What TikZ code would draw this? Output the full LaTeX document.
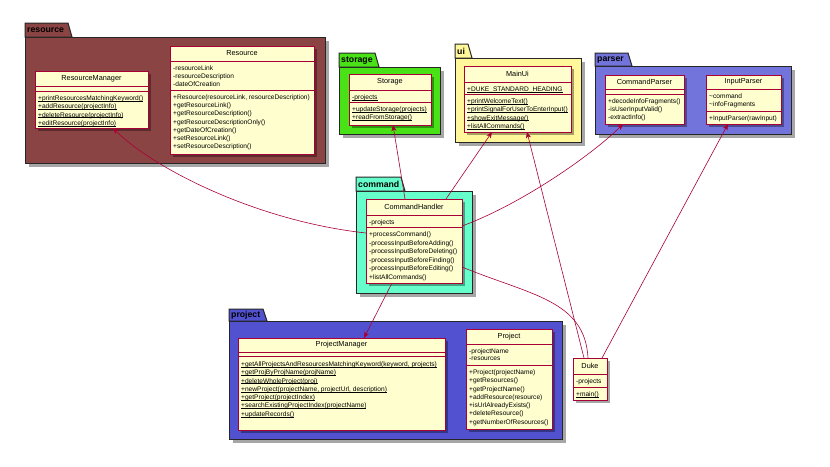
\documentclass[tikz,border=0pt]{standalone}
\usepackage{fontspec}
\setmainfont{Liberation Sans}
\usetikzlibrary{arrows.meta,calc}
\definecolor{clsfill}{HTML}{FEFECE}
\definecolor{clsdraw}{HTML}{A80036}
\definecolor{cresource}{RGB}{139,68,68}
\definecolor{cstorage}{RGB}{72,226,22}
\definecolor{cui}{RGB}{255,247,153}
\definecolor{cparser}{RGB}{115,115,220}
\definecolor{ccommand}{RGB}{102,255,204}
\definecolor{cproject}{RGB}{82,82,208}
\newsavebox\ulxbox
\newcommand\ulx[1]{\sbox\ulxbox{#1}\rlap{\rule[-1pt]{\wd\ulxbox}{0.6pt}}\usebox\ulxbox}
\tikzset{
  shad/.style={fill=black, opacity=0.35},
  clsbox/.style={draw=clsdraw, fill=clsfill, line width=0.9pt, inner sep=0pt, outer sep=0pt, rectangle},
  clsline/.style={draw=clsdraw, line width=0.9pt},
  clstitle/.style={inner sep=0pt, font=\fontsize{7.3}{8}\selectfont},
  mem/.style={anchor=west, inner sep=0pt, text height=4.8pt, text depth=0pt, font=\fontsize{6.6}{8}\selectfont},
  pkgbody/.style={draw=black!85, line width=1pt, inner sep=0pt, outer sep=0pt, rectangle},
  pkgline/.style={draw=black!85, line width=1pt},
  pkglabel/.style={inner sep=0pt, font=\fontsize{8.7}{9}\selectfont\bfseries},
  conn/.style={draw=clsdraw, line width=0.6pt},
  arr/.style={conn, -{Stealth[length=6pt,width=5pt,inset=1.5pt]}}
}
% #1 id, #2 x1, #3 y1, #4 x2, #5 y2, #6 header bottom, #7 attrs bottom, #8 title
\newcommand\umlclass[8]{%
  \fill[shad] (#2+3,#3+3) rectangle (#4+3,#5+3);
  \node[clsbox, anchor=north west, minimum width={(#4-#2)*1pt}, minimum height={(#5-#3)*1pt}] (#1) at (#2,#3) {};
  \draw[clsline] (#2,#6) -- (#4,#6) (#2,#7) -- (#4,#7);
  \node[clstitle] (#1-title) at ({(#2+#4)/2},{(#3+#6)/2}) {#8};
}
% #1 id, #2 x, #3 ytop, #4 pitch, #5 list
\newcommand\members[5]{%
  \foreach \mtext [count=\mi from 0] in {#5} \node[mem] (#1-\mi) at (#2+3,#3+7+#4*\mi) {\mtext};
}
% #1 id, #2 x1, #3 ytab, #4 tab right, #5 ybody, #6 x2, #7 y2, #8 colour, #9 label
\newcommand\umlpkg[9]{%
  \fill[shad] (#2+4,#5+4) rectangle (#6+4,#7+4);
  \node[pkgbody, fill=#8, anchor=north west, minimum width={(#6-#2)*1pt}, minimum height={(#7-#5)*1pt}] (#1) at (#2,#5) {};
  \filldraw[pkgline, fill=#8] (#2,#5) -- (#2,#3) -- (#4,#3) -- (#4+4,#5) -- cycle;
  \node[pkglabel, anchor=west] (#1-label) at (#2+2,{(#3+#5)/2+0.5}) {#9};
}
\begin{document}
\begin{tikzpicture}[x=1pt,y=-1pt]
\useasboundingbox (0,0) rectangle (830,466);
\fill[white] (0,0) rectangle (830,466);

% packages
\umlpkg{presource}{25}{23}{68}{37}{325}{163}{cresource}{resource}
\umlpkg{pstorage}{339}{53}{375}{67}{440}{134}{cstorage}{storage}
\umlpkg{pui}{455}{44}{468}{58}{581}{142}{cui}{ui}
\umlpkg{pparser}{595}{53}{628}{66}{791}{134}{cparser}{parser}
\umlpkg{pcommand}{356}{177}{401}{191}{472}{293}{ccommand}{command}
\umlpkg{pproject}{229}{309}{263}{321}{562}{439}{cproject}{project}

% classes
\umlclass{rm}{35}{71}{148}{128}{86}{91}{ResourceManager}
\members{rmm}{35}{91}{8.3}{\ulx{+printResourcesMatchingKeyword()},\ulx{+addResource(projectInfo)},\ulx{+deleteResource(projectInfo)},\ulx{+editResource(projectInfo)}}

\umlclass{res}{170}{46}{314}{154}{61}{90}{Resource}
\members{resa}{170}{61}{8.2}{-resourceLink,-resourceDescription,-dateOfCreation}
\members{resm}{170}{90}{8.2}{{+Resource(resourceLink, resourceDescription)},+getResourceLink(),+getResourceDescription(),+getResourceDescriptionOnly(),+getDateOfCreation(),+setResourceLink(),+setResourceDescription()}

\umlclass{sto}{349}{74}{431}{125}{90}{102}{Storage}
\members{stoa}{349}{90}{8.3}{\ulx{-projects}}
\members{stom}{349}{102}{8.3}{\ulx{+updateStorage(projects)},\ulx{+readFromStorage()}}

\umlclass{ui}{464}{66}{571}{132}{82}{94}{MainUi}
\members{uia}{464}{82}{8.3}{\ulx{+DUKE\_STANDARD\_HEADING}}
\members{uim}{464}{94}{8.3}{\ulx{+printWelcomeText()},\ulx{+printSignalForUserToEnterInput()},\ulx{+showExitMessage()},\ulx{+listAllCommands()}}

\umlclass{cp}{605}{75}{684}{124}{89}{94}{CommandParser}
\members{cpm}{605}{94}{8.2}{+decodeInfoFragments(),-isUserInputValid(),-extractInfo()}

\umlclass{ip}{706}{75}{781}{124}{89}{111}{InputParser}
\members{ipa}{706}{89}{7.7}{\textasciitilde command,\textasciitilde infoFragments}
\members{ipm}{706}{111}{8.2}{+InputParser(rawInput)}

\umlclass{ch}{366}{199}{462}{283}{215}{227}{CommandHandler}
\members{cha}{366}{215}{8.5}{-projects}
\members{chm}{366}{227}{8.6}{+processCommand(),-processInputBeforeAdding(),-processInputBeforeDeleting(),-processInputBeforeFinding(),-processInputBeforeEditing(),+listAllCommands()}

\umlclass{pm}{238}{338}{445}{430}{352}{356}{ProjectManager}
\members{pmm}{238}{357}{8.3}{{\ulx{+getAllProjectsAndResourcesMatchingKeyword(keyword, projects)}},\ulx{+getProjByProjName(projName)},\ulx{+deleteWholeProject(proj)},{\ulx{+newProject(projectName, projectUrl, description)}},\ulx{+getProject(projectIndex)},\ulx{+searchExistingProjectIndex(projectName)},\ulx{+updateRecords()}}

\umlclass{proj}{466}{329}{552}{429}{344}{365}{Project}
\members{proja}{466}{344}{7.5}{-projectName,-resources}
\members{projm}{466}{365}{8.3}{+Project(projectName),+getResources(),+getProjectName(),+addResource(resource),+isUrlAlreadyExists(),+deleteResource(),+getNumberOfResources()}

\umlclass{duke}{573}{358}{607}{400}{374}{387}{Duke}
\members{dukea}{573}{374}{8.3}{-projects}
\members{dukem}{573}{387}{8.3}{\ulx{+main()}}

% connectors
\draw[arr] ([yshift=8pt]ch.west) .. controls +(-110,-12) and +(40,40) .. ([xshift=21.5pt]rm.south);
\draw[arr] ([xshift=-9pt]ch.north) -- ([xshift=3pt]sto.south);
\draw[arr] ([xshift=32pt]ch.north) -- ([xshift=-25.5pt]ui.south);
\draw[arr] ([yshift=15pt]ch.east) .. controls +(60,-22) and +(-30,30) .. ([xshift=-21.5pt]cp.south);
\draw[arr] ([xshift=-22pt]ch.south) -- ([xshift=22.5pt]pm.north);
\draw[conn] ([yshift=-26pt]ch.east) .. controls +(68,28) and +(-3,-58) .. ([xshift=-2pt]duke.north);
\draw[arr] ([xshift=-6pt]duke.north) -- ([xshift=9.5pt]ui.south);
\draw[arr] ([xshift=12pt]duke.north) -- ([xshift=-15.5pt]ip.south);
\end{tikzpicture}
\end{document}
